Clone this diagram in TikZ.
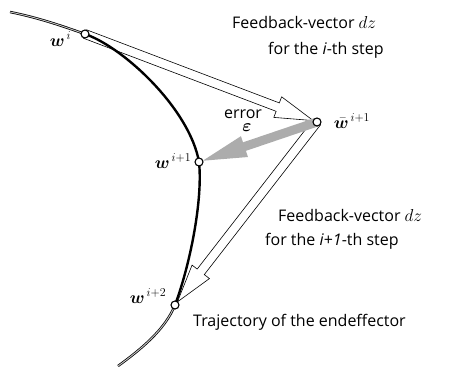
\documentclass[tikz,border=0pt]{standalone}
\usepackage{amsmath,bm}
\usepackage{fontspec}
\setmainfont{Open Sans}
\usetikzlibrary{positioning,calc,backgrounds}

% hollow or filled block arrow: style, from, to, shaft half width, head half width, head length
\newcommand{\fbarrow}[6]{%
  \coordinate (tip) at ($(#3)!4pt!(#2)$);
  \coordinate (base) at ($(tip)!#6!(#2)$);
  \path[#1] ($(#2)!#4!90:(tip)$) -- ($(base)!#4!90:(tip)$) -- ($(base)!#5!90:(tip)$)
    -- (tip) -- ($(base)!#5!-90:(tip)$) -- ($(base)!#4!-90:(tip)$) -- ($(#2)!#4!-90:(tip)$) -- cycle;
}

\begin{document}
\begin{tikzpicture}[x=1pt,y=-1pt,font=\fontsize{16}{18}\selectfont,node distance=4pt]
  \tikzstyle{wpoint}=[circle,draw,fill=white,line width=1.1pt,inner sep=0pt,minimum size=8pt]
  \tikzstyle{wlab}=[inner sep=0pt,font=\fontsize{17}{19}\selectfont]
  \tikzstyle{note}=[inner sep=0pt,anchor=west]
  \tikzstyle{hollow}=[draw,fill=white,line width=0.6pt,line join=miter]
  \tikzstyle{errfill}=[fill=gray!65]
  \tikzstyle{traj}=[line width=2.4pt]
  \tikzstyle{trajcore}=[line width=0.9pt,gray!45]

  \useasboundingbox (0,0) rectangle (455,368);

  % points on the trajectory
  \node[wpoint] (wi) at (85,34) {};
  \node[wpoint] (wii) at (199,162) {};
  \node[wpoint] (wiii) at (175,305) {};
  \node[wpoint] (wbar) at (317,122) {};
  \coordinate (start) at (10,12);
  \coordinate (end) at (118,366);

  % labels of the points
  \node[wlab,left=9pt of wi,yshift=-5pt] (wilab) {$\bm{w}^{\,i}$};
  \node[wlab,left=3pt of wii,yshift=1pt] (wiilab) {$\bm{w}^{\,i+1}$};
  \node[wlab,left=4pt of wiii,yshift=9pt] (wiiilab) {$\bm{w}^{\,i+2}$};
  \node[wlab,right=12pt of wbar,yshift=1pt] (wbarlab) {$\bar{\bm{w}}^{\,i+1}$};

  % texts
  \node[note] (fbone) at (232,22) {Feedback-vector $dz$};
  \node[note] (fbtwo) at (268,50) {for the \textit{i}-th step};
  \node[inner sep=0pt] (err) at (243,114) {error};
  \node[below=5pt of err,xshift=4pt,inner sep=0pt,font=\fontsize{18}{20}\selectfont] (eps) {$\bm{\varepsilon}$};
  \node[note] (fbthree) at (278,215) {Feedback-vector $dz$};
  \node[note] (fbfour) at (265,241) {for the \textit{i}+\textit{1}-th step};
  \node[note] (trajlab) at (193,322) {Trajectory of the endeffector};

  \begin{scope}[on background layer]
    % feedback vectors and error
    \fbarrow{hollow}{wi.center}{wbar.center}{4.5pt}{11pt}{38pt}
    \fbarrow{hollow}{wbar.center}{wiii.center}{4.5pt}{11pt}{38pt}
    \fbarrow{errfill}{wbar.center}{wii.center}{4.5pt}{11pt}{44pt}
    % trajectory
    \draw[traj] (start) .. controls (40,18) and (65,27) .. (wi.center)
      .. controls (125,48) and (190,110) .. (wii.center)
      .. controls (203,200) and (190,265) .. (wiii.center)
      .. controls (165,330) and (140,350) .. (end);
    \draw[trajcore] (start) .. controls (40,18) and (65,27) .. (wi.center);
    \draw[trajcore] (wiii.center) .. controls (165,330) and (140,350) .. (end);
  \end{scope}
\end{tikzpicture}
\end{document}
